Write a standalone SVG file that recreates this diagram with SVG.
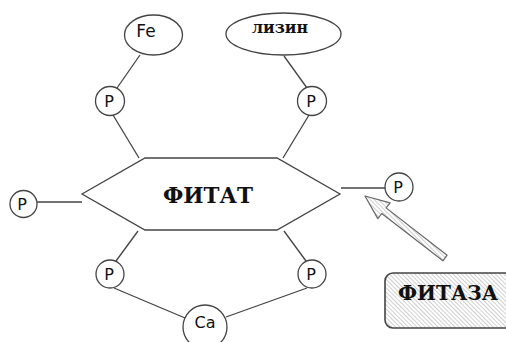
<svg xmlns="http://www.w3.org/2000/svg" width="506" height="342" viewBox="0 0 506 342">
<defs>
<pattern id="hatch" width="3" height="3" patternUnits="userSpaceOnUse" patternTransform="rotate(-45)">
<rect width="3" height="3" fill="#fff"/>
<line x1="0" y1="0" x2="0" y2="3" stroke="#a0a0a0" stroke-width="1"/>
</pattern>
<style>
.ln{stroke:#444;stroke-width:1.3;fill:none}
.nd{fill:#fff;stroke:#444;stroke-width:1.3}
.sans{font-family:"DejaVu Sans",Verdana,sans-serif;fill:#111}
.serif{font-family:"DejaVu Serif","Liberation Serif",serif;font-weight:bold;fill:#111}
</style>
</defs>
<rect width="506" height="342" fill="#fff"/>
<g id="connectors">
<line class="ln" x1="140" y1="55" x2="117" y2="88"/>
<line class="ln" x1="113" y1="115" x2="139" y2="158"/>
<line class="ln" x1="284" y1="56" x2="307" y2="88"/>
<line class="ln" x1="309" y1="115" x2="283" y2="158"/>
<line class="ln" x1="37" y1="202" x2="82" y2="202"/>
<line class="ln" x1="341" y1="188" x2="385" y2="188"/>
<line class="ln" x1="138" y1="231" x2="116" y2="261"/>
<line class="ln" x1="284" y1="231" x2="306" y2="261"/>
<line class="ln" x1="114" y1="288" x2="185" y2="318"/>
<line class="ln" x1="307" y1="288" x2="226" y2="317"/>
<polygon points="365,196 390.1,202.8 386.1,207.9 447.1,255.2 442.9,260.8 381.8,213.5 377.8,218.6" fill="url(#hatch)" stroke="#666" stroke-width="1.2" stroke-linejoin="round"/>
</g>
<g id="phytate">
<polygon class="nd" points="82,194 145,158 277,158 340,194 277,230 145,230"/>
<text class="serif" x="208" y="203" font-size="22" text-anchor="middle" textLength="90" lengthAdjust="spacingAndGlyphs">ФИТАТ</text>
</g>
<g id="fe">
<ellipse class="nd" cx="153.5" cy="35" rx="29" ry="20"/>
<text class="sans" x="146" y="37" font-size="17" text-anchor="middle">Fe</text>
</g>
<g id="lysine">
<ellipse class="nd" cx="283.5" cy="34" rx="57.5" ry="21"/>
<text class="serif" x="280" y="33" font-size="16" text-anchor="middle" textLength="56" lengthAdjust="spacingAndGlyphs">лизин</text>
</g>
<g id="p-top-left">
<circle class="nd" cx="110" cy="101" r="14.5"/>
<text class="sans" x="109" y="107" font-size="16" text-anchor="middle">P</text>
</g>
<g id="p-top-right">
<circle class="nd" cx="312" cy="101" r="14.5"/>
<text class="sans" x="311" y="107" font-size="16" text-anchor="middle">P</text>
</g>
<g id="p-left">
<circle class="nd" cx="23.5" cy="204" r="13.5"/>
<text class="sans" x="22" y="210" font-size="16" text-anchor="middle">P</text>
</g>
<g id="p-right">
<circle class="nd" cx="399" cy="187" r="14"/>
<text class="sans" x="398" y="193" font-size="16" text-anchor="middle">P</text>
</g>
<g id="p-bottom-left">
<circle class="nd" cx="110" cy="274" r="14"/>
<text class="sans" x="109" y="280" font-size="16" text-anchor="middle">P</text>
</g>
<g id="p-bottom-right">
<circle class="nd" cx="312" cy="274" r="14"/>
<text class="sans" x="311" y="280" font-size="16" text-anchor="middle">P</text>
</g>
<g id="ca">
<circle class="nd" cx="205" cy="327" r="22"/>
<text class="sans" x="205" y="328" font-size="16" text-anchor="middle">Ca</text>
</g>
<g id="phytase">
<rect x="385" y="273" width="135" height="55" rx="8" ry="8" fill="url(#hatch)" stroke="#444" stroke-width="1.6"/>
<text class="serif" x="448" y="300" font-size="21" text-anchor="middle" textLength="100" lengthAdjust="spacingAndGlyphs">ФИТАЗА</text>
</g>
</svg>
